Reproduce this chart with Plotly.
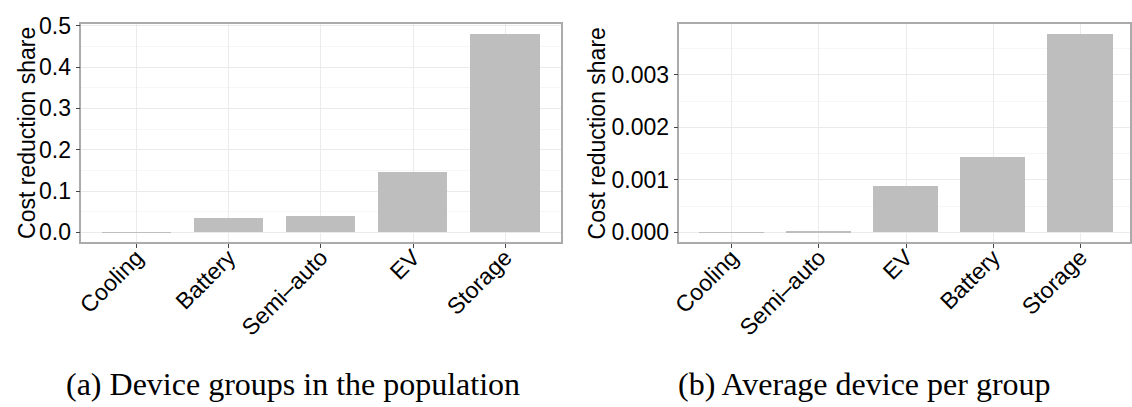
import plotly.graph_objects as go

# Panel (a): share of total cost reduction by device group in the population
groups_a = ["Cooling", "Battery", "Semi\u2013auto", "EV", "Storage"]
share_a = [0.0006, 0.035, 0.040, 0.147, 0.479]

# Panel (b): cost reduction share of the average device in each group
groups_b = ["Cooling", "Semi\u2013auto", "EV", "Battery", "Storage"]
share_b = [0.000003, 0.00002, 0.00089, 0.00144, 0.00378]

ticks_a = [0.0, 0.1, 0.2, 0.3, 0.4, 0.5]
ticks_b = [0.000, 0.001, 0.002, 0.003]

captions = ["(a) Device groups in the population", "(b) Average device per group"]
y_title = "Cost reduction share"

BAR = "#bebebe"
GRID = "#ebebeb"
MINOR = "#f6f6f6"
BORDER = "#ababab"
SANS = "Liberation Sans, Arial, sans-serif"
SERIF = "Liberation Serif, Times New Roman, serif"

W, H = 1132, 407

fig = go.Figure()
fig.add_trace(go.Bar(x=groups_a, y=share_a, marker=dict(color=BAR, line=dict(width=0)),
                     width=0.75, xaxis="x", yaxis="y", showlegend=False))
fig.add_trace(go.Bar(x=groups_b, y=share_b, marker=dict(color=BAR, line=dict(width=0)),
                     width=0.75, xaxis="x2", yaxis="y2", showlegend=False))

y_dom = [1 - 239.5 / H, 1 - 13.5 / H]

def xaxis(domain, cats, rng, anchor):
    return dict(domain=domain, anchor=anchor, type="category", categoryorder="array",
                categoryarray=cats, range=rng, showgrid=True, gridcolor=GRID, gridwidth=1,
                showline=True, mirror=True, linecolor=BORDER, linewidth=1.5,
                ticks="outside", ticklen=4, tickcolor="#444", tickwidth=1,
                tickangle=-45, ticklabelstandoff=-13,
                tickfont=dict(family=SANS, size=23, color="black"),
                zeroline=False, fixedrange=True)

def yaxis(anchor, rng, tickvals, ticktext, minor_step):
    return dict(domain=y_dom, anchor=anchor, range=rng, tickmode="array",
                tickvals=tickvals, ticktext=ticktext, showgrid=True, gridcolor=GRID,
                gridwidth=1.2, showline=True, mirror=True, linecolor=BORDER, linewidth=1.5,
                ticks="outside", ticklen=4, tickcolor="#444", tickwidth=1,
                tickfont=dict(family=SANS, size=23, color="black"),
                minor=dict(dtick=minor_step, tick0=0, showgrid=True, gridcolor=MINOR,
                           gridwidth=1, ticks=""),
                zeroline=False, fixedrange=True)

fig.update_layout(
    width=W, height=H, margin=dict(l=0, r=0, t=0, b=0),
    paper_bgcolor="white", plot_bgcolor="white", bargap=0,
    xaxis=xaxis([73 / W, 557 / W], groups_a, [-0.6, 4.6], "y"),
    yaxis=yaxis("x", [-0.024, 0.504], ticks_a, [f"{v:.1f}" for v in ticks_a], 0.05),
    xaxis2=xaxis([677 / W, 1.0], groups_b, [-0.6, 4.57], "y2"),
    yaxis2=yaxis("x2", [-0.000189, 0.003969], ticks_b, [f"{v:.3f}" for v in ticks_b], 0.0005),
)

y_mid = (y_dom[0] + y_dom[1]) / 2
for xpix in (18, 594):
    fig.add_annotation(text=y_title, x=xpix / W, y=y_mid, xref="paper", yref="paper",
                       xanchor="center", yanchor="middle", textangle=-90, showarrow=False,
                       font=dict(family=SANS, size=23, color="black"))

for xpix, cap in zip((287, 864), captions):
    fig.add_annotation(text=cap, x=xpix / W, y=1 - 386 / H, xref="paper", yref="paper",
                       xanchor="center", yanchor="middle", showarrow=False,
                       font=dict(family=SERIF, size=32, color="black"))

fig.write_html("out.html")
